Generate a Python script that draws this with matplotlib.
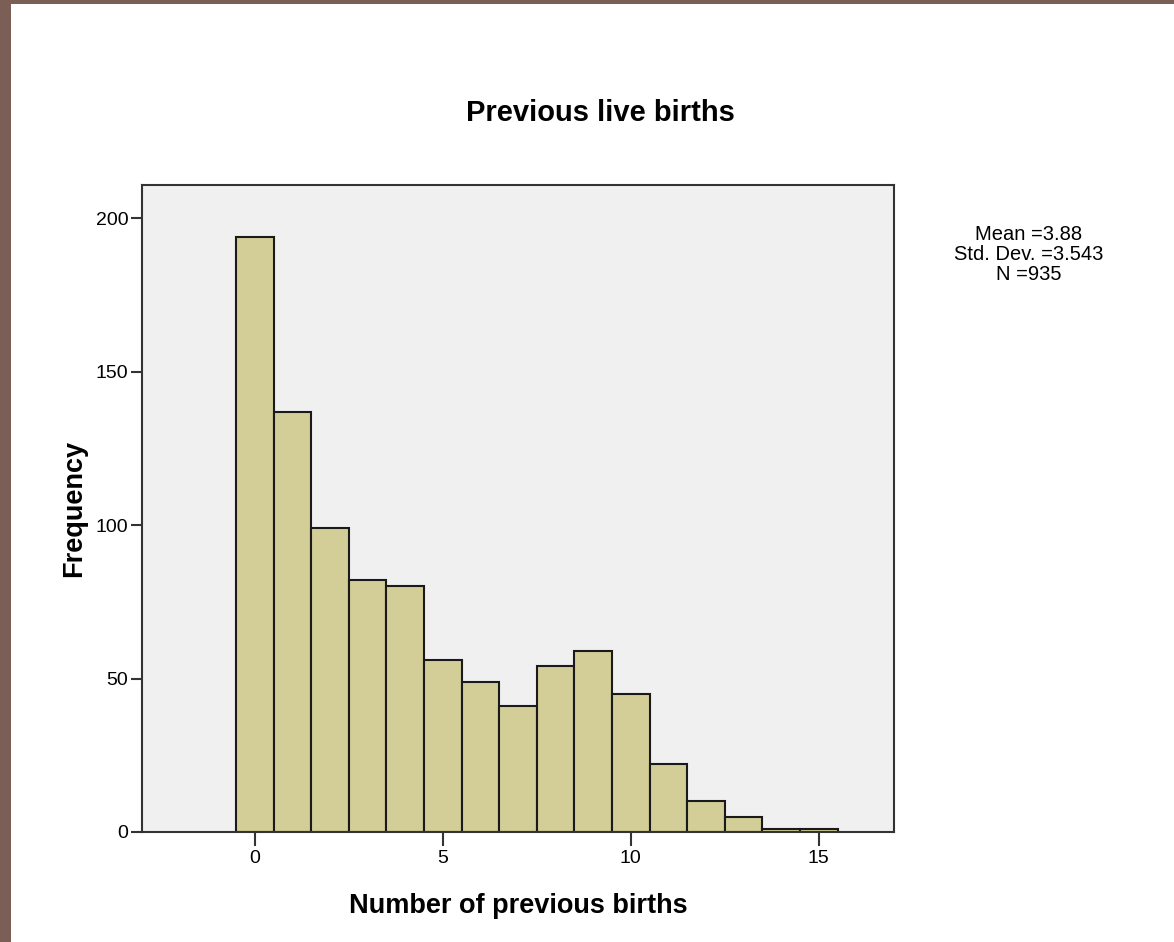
import numpy as np
import matplotlib.pyplot as plt
from matplotlib.patches import Rectangle

# values
births = np.arange(0, 16)
counts = [194, 137, 99, 82, 80, 56, 49, 41, 54, 59, 45, 22, 10, 5, 1, 1]
stats_lines = ["Mean =3.88", "Std. Dev. =3.543", "N =935"]
x_ticks = [0, 5, 10, 15]
y_ticks = [0, 50, 100, 150, 200]

plt.rcParams['font.family'] = ['Liberation Sans', 'DejaVu Sans']

fig = plt.figure(figsize=(11.74, 9.42), dpi=100)
fig.patch.set_facecolor('white')

# brown window border
fig.patches.append(Rectangle((0, 0), 11 / 1174, 1, transform=fig.transFigure,
                             facecolor='#7B5E55', edgecolor='none', zorder=-1))
fig.patches.append(Rectangle((0, 1 - 4 / 942), 1, 4 / 942, transform=fig.transFigure,
                             facecolor='#7B5E55', edgecolor='none', zorder=-1))

ax = fig.add_axes([0.1210, 0.1168, 0.6405, 0.6868])
ax.set_facecolor('#F0F0F0')

ax.bar(births, counts, width=1.0, color='#D3CE97', edgecolor='#1a1a1a', linewidth=1.5)

ax.set_xlim(-3, 17)
ax.set_ylim(0, 210.8)
ax.set_xticks(x_ticks)
ax.set_yticks(y_ticks)
ax.tick_params(axis='x', length=10, width=1.5, labelsize=14, pad=3, color='#333333')
ax.tick_params(axis='y', length=8, width=1.5, labelsize=14, pad=2, color='#333333')
for s in ax.spines.values():
    s.set_linewidth(1.5)
    s.set_color('#333333')

ax.set_xlabel("Number of previous births", fontsize=19.5, fontweight='bold', labelpad=19)
ax.set_ylabel("Frequency", fontsize=19.5, fontweight='bold', labelpad=6)
fig.text(600 / 1174, 1 - 113 / 942, "Previous live births", fontsize=21, fontweight='bold',
         ha='center', va='center')

# statistics box, one line each
for i, line in enumerate(stats_lines):
    fig.text(1029 / 1174, 1 - (235 + 20 * i) / 942, line, fontsize=14.5,
             ha='center', va='center')

fig.savefig('out.png', dpi=100)
